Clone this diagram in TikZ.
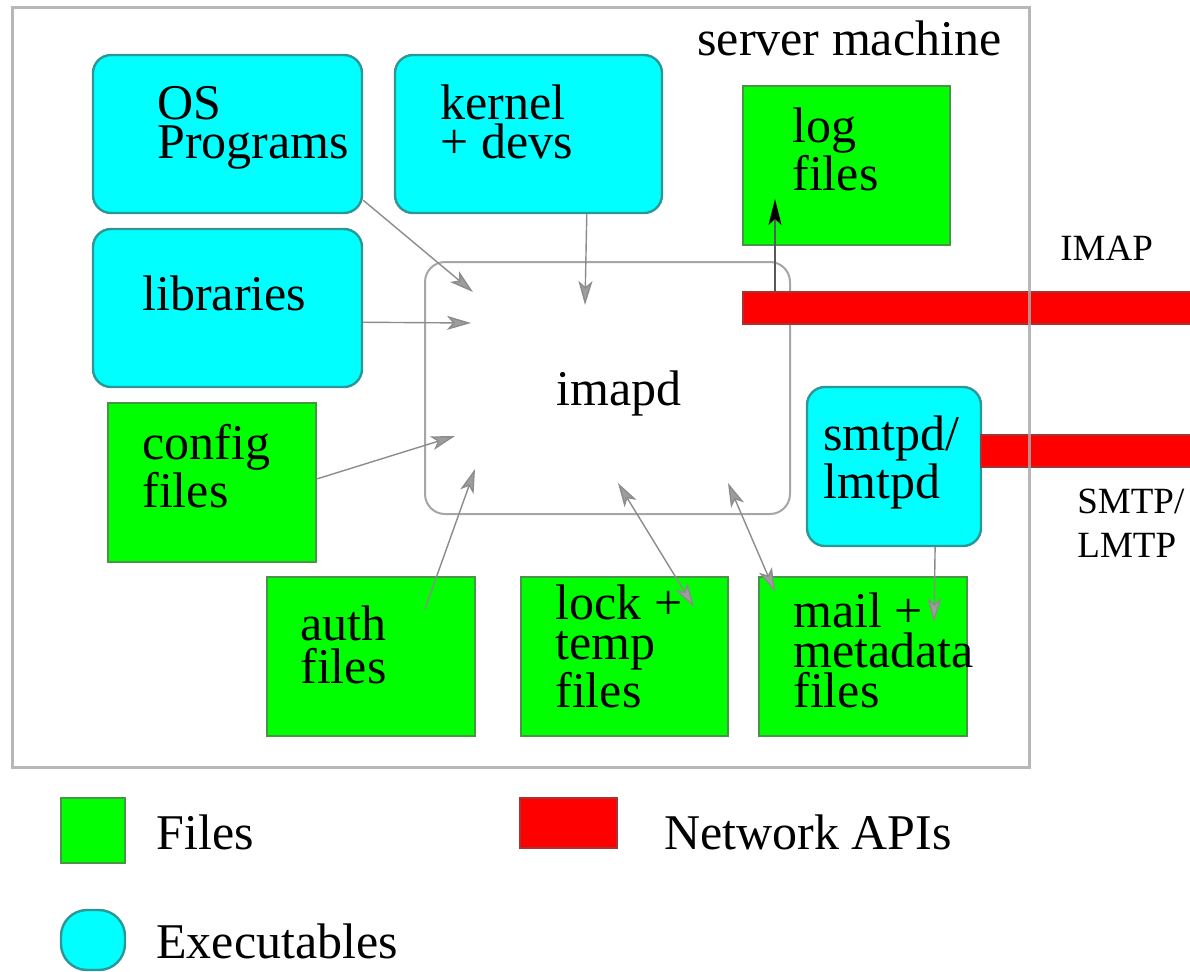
\documentclass[tikz,border=0pt]{standalone}
\usepackage{fontspec}
\setmainfont{Liberation Serif}
\usetikzlibrary{fit,arrows.meta}
\definecolor{cyanfill}{RGB}{0,255,255}
\definecolor{cyanline}{RGB}{45,150,150}
\definecolor{greenfill}{RGB}{0,255,0}
\definecolor{greenline}{RGB}{70,150,70}
\definecolor{redfill}{RGB}{255,0,0}
\definecolor{redline}{RGB}{170,50,50}
\definecolor{framegray}{RGB}{170,170,170}
\definecolor{arrowgray}{RGB}{140,140,140}
\begin{document}
\begin{tikzpicture}[x=0.5pt,y=-0.5pt,
 exebox/.style={draw=cyanline, fill=cyanfill, line width=1.2pt, rounded corners=9pt, inner sep=0pt},
 filebox/.style={draw=greenline, fill=greenfill, line width=1.2pt, inner sep=0pt},
 netbar/.style={draw=redline, fill=redfill, line width=1pt, inner sep=0pt},
 procbox/.style={draw=gray!70, fill=white, line width=1pt, rounded corners=10pt, inner sep=0pt},
 framebox/.style={draw=framegray, draw opacity=0.85, line width=1.5pt, inner sep=0pt},
 lbl/.style={anchor=base west, inner sep=0pt, align=left, font=\fontsize{25}{20}\selectfont},
 small/.style={anchor=base west, inner sep=0pt, align=left, font=\fontsize{18.5}{22}\selectfont},
 tipg/.tip={Stealth[length=12pt,width=7pt,inset=3pt,color=arrowgray,fill=arrowgray!85]},
 flow/.style={draw=arrowgray, line width=0.7pt, -tipg},
 twoway/.style={draw=arrowgray, line width=0.7pt, tipg-tipg},
 logflow/.style={draw=black!65, line width=0.7pt, -{Stealth[length=13pt,width=6.5pt,inset=3pt,black]}}
]
\useasboundingbox (0,0) rectangle (1190,971);

% boxes
\node[exebox, fit={(93,55) (362,213)}] (os) {};
\node[exebox, fit={(395,55) (662,213)}] (kernel) {};
\node[exebox, fit={(93,229) (362,387)}] (lib) {};
\node[filebox, fit={(743,86) (950,245)}] (log) {};
\node[procbox, fit={(425,262) (790,514)}] (imapd) {};
\node[exebox, fit={(807,387) (981,546)}] (smtpd) {};
\node[filebox, fit={(108,403) (316,562)}] (config) {};
\node[filebox, fit={(267,577) (475,736)}] (auth) {};
\node[filebox, fit={(521,577) (728,736)}] (lock) {};
\node[filebox, fit={(759,577) (967,736)}] (mail) {};

% connectors
\coordinate (osIn) at (473,292);
\coordinate (libIn) at (471,323);
\coordinate (kerIn) at (585,305);
\coordinate (cfgIn) at (455,436);
\coordinate (authFrom) at (425,609);
\coordinate (authIn) at (475,469);
\coordinate (lockIn) at (618,483);
\coordinate (lockOut) at (694,607);
\coordinate (mailIn) at (728,483);
\coordinate (mailOut) at (775,592);
\coordinate (smtpOut) at (934,622);
\coordinate (logFrom) at (775,293);
\coordinate (logTo) at (775,199);

\draw[flow] (os.-26) -- (osIn);
\draw[flow] (lib.-6.35) -- (libIn);
\draw[flow] (kernel.-54.4) -- (kerIn);
\draw[flow] (config.2.75) -- (cfgIn);
\draw[flow] (authFrom) -- (authIn);
\draw[twoway] (lockIn) -- (lockOut);
\draw[twoway] (mailIn) -- (mailOut);
\draw[flow] (smtpd.-63.3) -- (smtpOut);
\draw[logflow] (logFrom) -- (logTo);

% network bars
\node[netbar, fit={(743,292) (1195,324)}] (imapbar) {};
\node[netbar, fit={(981,435) (1195,467)}] (smtpbar) {};

% server frame
\node[framebox, fit={(12,7) (1029,767)}] (server) {};

% labels (multi-line nodes: anchor at baseline of last line)
\node[lbl] (t-server) at (697,55) {server machine};
\node[lbl, font=\fontsize{25}{19.5}\selectfont] (t-os) at (157,158) {OS\\Programs};
\node[lbl, font=\fontsize{25}{19.5}\selectfont] (t-kernel) at (440,158) {kernel\\+ devs};
\node[lbl] (t-lib) at (142,310) {libraries};
\node[lbl] (t-log) at (792,190) {log\\files};
\node[small] (t-imap) at (1060,260) {IMAP};
\node[lbl] (t-imapd) at (556,405) {imapd};
\node[lbl, font=\fontsize{25}{24}\selectfont] (t-smtpd) at (823,498) {smtpd/\\lmtpd};
\node[small] (t-smtp) at (1077,557) {SMTP/\\LMTP};
\node[lbl, font=\fontsize{25}{19.5}\selectfont] (t-config) at (142,507) {config\\files};
\node[lbl, font=\fontsize{25}{21.5}\selectfont] (t-auth) at (300,683) {auth\\files};
\node[lbl] (t-lock) at (555,707) {lock +\\temp\\files};
\node[lbl] (t-mail) at (793,707) {mail +\\metadata\\files};

% legend
\node[filebox, fit={(61,798) (125,863)}] (legF) {};
\node[netbar, fit={(520,798) (617,848)}] (legN) {};
\node[exebox, rounded corners=13pt, fit={(61,910) (125,970)}] (legE) {};
\node[lbl] (t-files) at (156,849) {Files};
\node[lbl] (t-net) at (664,849) {Network APIs};
\node[lbl] (t-exe) at (156,958) {Executables};
\end{tikzpicture}
\end{document}
